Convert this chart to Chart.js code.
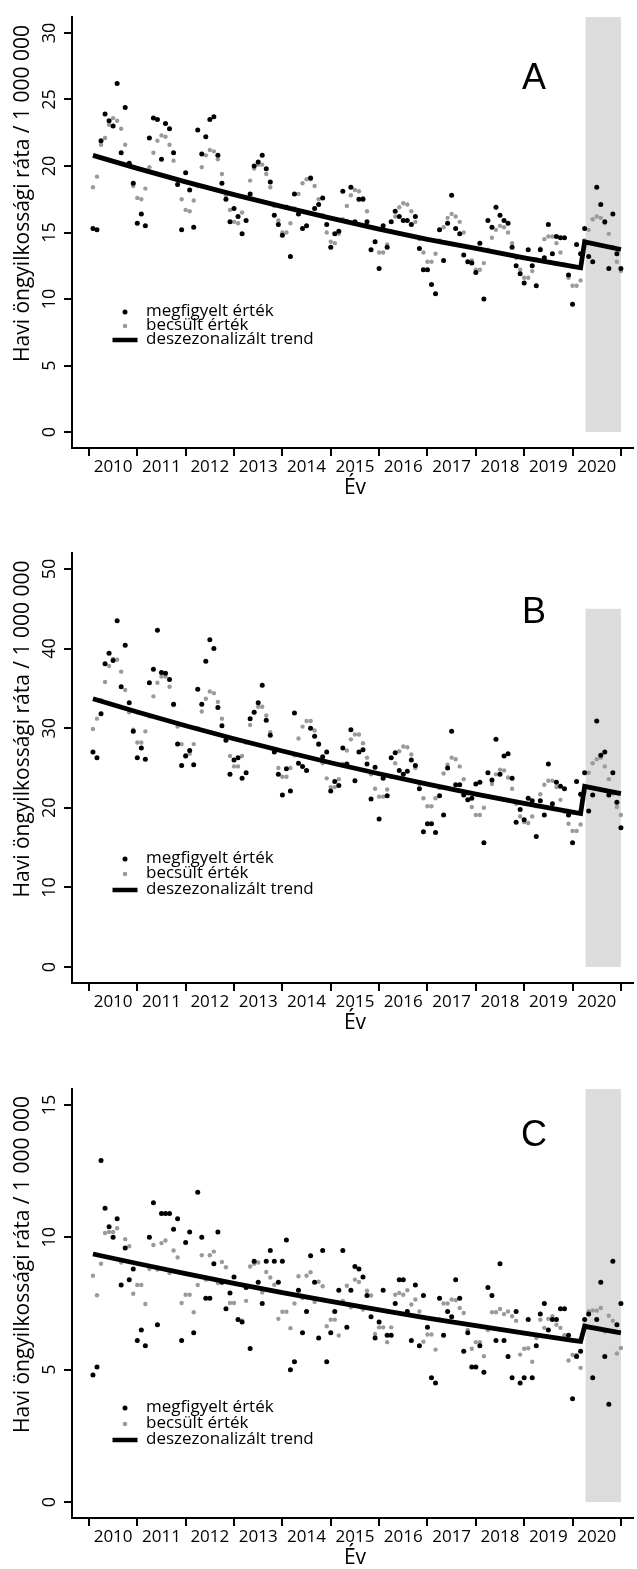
<!DOCTYPE html>
<html lang="hu">
<head>
<meta charset="utf-8">
<title>Havi öngyilkossági ráta</title>
<script src="https://cdn.jsdelivr.net/npm/chart.js@4.4.1/dist/chart.umd.min.js"></script>
<style>
  html, body { margin: 0; padding: 0; background: #fff; }
  .panel { position: absolute; left: 0; width: 637px; height: 523px; }
</style>
</head>
<body>
<div class="panel" style="top:0"><canvas id="chartA"></canvas></div>
<div class="panel" style="top:523px"><canvas id="chartB"></canvas></div>
<div class="panel" style="top:1046px"><canvas id="chartC"></canvas></div>
<script>
// Categories
const years = [2010, 2011, 2012, 2013, 2014, 2015, 2016, 2017, 2018, 2019, 2020];
const monthNumbers = [1, 2, 3, 4, 5, 6, 7, 8, 9, 10, 11, 12];
const yTitle = 'Havi öngyilkossági ráta / 1 000 000';
const xTitle = 'Év';
const legendLabels = ['megfigyelt érték', 'becsült érték', 'deszezonalizált trend'];

// Tick labels
const yTicksA = [0, 5, 10, 15, 20, 25, 30];
const yTicksB = [0, 10, 20, 30, 40, 50];
const yTicksC = [0, 5, 10, 15];

// Panel A - monthly values 2010-2020
const obsA = [
  15.3, 15.2, 21.9, 23.9, 23.4, 23.0, 26.2, 21.0, 24.4, 20.2, 18.7, 15.7,
  16.4, 15.5, 22.1, 23.6, 23.5, 20.5, 23.2, 22.8, 21.0, 18.6, 15.2, 19.5,
  18.2, 15.4, 22.7, 20.9, 22.2, 23.5, 23.7, 20.8, 18.7, 17.5, 15.8, 16.8,
  16.2, 14.9, 15.9, 17.9, 20.0, 20.3, 20.8, 19.8, 18.8, 16.3, 15.6, 14.8,
  16.9, 13.2, 17.9, 16.4, 15.3, 15.5, 19.1, 16.8, 17.1, 17.6, 15.6, 13.9,
  14.9, 15.1, 18.1, 15.8, 18.4, 15.8, 17.5, 17.5, 15.8, 13.7, 14.3, 12.3,
  15.5, 13.9, 15.8, 16.6, 16.2, 15.9, 15.9, 15.6, 16.2, 13.8, 12.2, 12.2,
  11.1, 10.4, 15.2, 12.9, 15.7, 17.8, 15.3, 14.9, 13.3, 12.8, 12.7, 12.0,
  14.2, 10.0, 15.9, 15.4, 16.9, 16.3, 15.9, 15.7, 13.9, 12.5, 11.9, 11.2,
  13.7, 12.5, 11.0, 13.7, 13.1, 15.6, 13.4, 14.7, 14.6, 14.6, 11.8, 9.6,
  14.1, 13.4, 15.3, 13.2, 12.8, 18.4, 17.1, 15.8, 12.3, 16.4, 13.4, 12.3
];
const estA = [
  18.4, 19.2, 21.6, 22.1, 23.1, 23.6, 23.4, 22.8, 21.6, 20.0, 18.5, 17.6,
  17.5, 18.3, 19.9, 21.0, 21.9, 22.3, 22.2, 21.6, 20.4, 18.9, 17.5, 16.7,
  16.6, 17.4, 18.5, 19.9, 20.8, 21.2, 21.1, 20.5, 19.4, 17.8, 16.7, 15.8,
  15.7, 16.5, 17.6, 18.9, 19.8, 20.1, 20.1, 19.4, 18.4, 17.0, 15.9, 15.0,
  15.0, 15.7, 16.8, 17.9, 18.7, 19.0, 19.0, 18.5, 17.5, 16.3, 15.0, 14.3,
  14.2, 14.9, 16.0, 17.0, 17.8, 18.2, 18.1, 17.6, 16.6, 15.4, 14.3, 13.5,
  13.5, 14.1, 15.1, 16.2, 16.9, 17.2, 17.1, 16.6, 15.8, 14.5, 13.5, 12.8,
  12.8, 13.4, 14.4, 15.4, 16.1, 16.4, 16.2, 15.8, 15.0, 13.9, 12.9, 12.2,
  12.2, 12.7, 13.7, 14.6, 15.2, 15.5, 15.4, 15.0, 14.2, 13.1, 12.2, 11.6,
  11.6, 12.1, 13.0, 13.8, 14.5, 14.7, 14.7, 14.2, 13.5, 12.6, 11.6, 11.0,
  11.0, 11.4, 14.4, 15.2, 16.0, 16.2, 16.1, 15.7, 14.9, 13.9, 12.8, 12.1
];

// Panel B
const obsB = [
  27.0, 26.3, 31.8, 38.1, 39.4, 38.5, 43.5, 35.2, 40.4, 33.2, 29.6, 26.3,
  27.5, 26.1, 35.7, 37.4, 42.3, 37.0, 36.9, 36.1, 33.0, 28.0, 25.3, 26.5,
  27.2, 25.4, 34.9, 33.0, 38.4, 41.1, 40.0, 32.6, 30.3, 28.5, 24.2, 26.0,
  26.3, 23.7, 24.4, 31.2, 32.0, 33.2, 35.4, 31.0, 29.1, 27.0, 24.2, 21.6,
  24.9, 22.1, 31.9, 25.6, 25.2, 24.7, 30.0, 29.0, 28.0, 26.4, 27.0, 22.1,
  23.3, 22.8, 27.5, 25.5, 29.8, 23.4, 27.0, 27.3, 25.5, 21.1, 25.1, 18.6,
  23.7, 21.5, 26.3, 26.9, 24.7, 24.2, 24.6, 26.0, 25.3, 22.4, 17.0, 18.0,
  18.0, 16.9, 21.5, 19.1, 25.0, 29.6, 22.9, 22.9, 21.6, 21.0, 21.2, 23.0,
  23.2, 15.6, 24.4, 23.5, 28.6, 24.2, 26.5, 26.8, 23.7, 18.2, 19.8, 18.5,
  21.2, 20.9, 16.4, 20.9, 19.1, 25.5, 20.5, 23.2, 22.7, 22.4, 19.1, 15.6,
  23.3, 21.7, 24.4, 19.6, 21.6, 30.9, 26.6, 27.0, 21.6, 24.4, 20.7, 17.5
];
const estB = [
  29.9, 31.2, 33.5, 35.8, 37.8, 38.7, 38.6, 37.1, 34.8, 32.0, 29.8, 28.2,
  28.2, 29.6, 31.5, 34.0, 35.7, 36.5, 36.5, 35.2, 32.9, 30.2, 28.0, 26.6,
  26.8, 28.0, 30.0, 32.1, 33.7, 34.6, 34.4, 33.3, 31.2, 28.6, 26.5, 25.2,
  25.2, 26.5, 28.2, 30.4, 32.0, 32.7, 32.7, 31.6, 29.5, 27.0, 25.0, 23.9,
  23.9, 25.0, 26.6, 28.7, 30.2, 30.9, 30.9, 29.7, 27.9, 25.6, 23.7, 22.6,
  22.6, 23.6, 25.5, 27.2, 28.6, 29.2, 29.2, 28.1, 26.3, 24.2, 22.4, 21.4,
  21.4, 22.3, 23.9, 25.6, 27.1, 27.7, 27.6, 26.7, 25.0, 23.0, 21.2, 20.2,
  20.2, 21.2, 22.5, 24.3, 25.4, 26.3, 26.1, 25.2, 23.6, 21.8, 20.1, 19.1,
  19.1, 20.0, 21.5, 23.0, 24.2, 24.8, 24.7, 23.8, 22.4, 20.5, 18.9, 18.2,
  18.1, 18.9, 20.2, 21.7, 22.9, 23.4, 23.4, 22.6, 21.0, 19.5, 18.0, 17.1,
  17.1, 17.9, 22.0, 24.4, 25.6, 26.1, 26.3, 25.2, 23.6, 21.8, 20.1, 19.1
];

// Panel C
const obsC = [
  4.8, 5.1, 12.9, 11.1, 10.4, 10.0, 10.7, 8.2, 9.6, 8.4, 8.8, 6.1,
  6.5, 5.9, 10.0, 11.3, 6.7, 10.9, 10.9, 10.9, 10.3, 10.7, 6.1, 9.8,
  10.2, 6.4, 11.7, 10.0, 7.7, 7.7, 9.0, 10.2, 8.3, 7.3, 7.9, 8.5,
  6.9, 6.8, 8.1, 5.8, 9.1, 8.3, 7.5, 9.1, 9.5, 9.1, 8.3, 9.1,
  9.9, 5.0, 5.3, 8.0, 6.4, 7.2, 9.3, 8.3, 6.2, 9.5, 5.3, 6.4,
  7.2, 8.0, 9.5, 6.6, 8.0, 8.9, 8.8, 8.5, 7.8, 7.0, 6.2, 6.8,
  8.0, 6.3, 6.3, 7.5, 8.4, 8.4, 7.2, 6.1, 8.2, 5.9, 7.8, 6.6,
  4.7, 4.5, 7.7, 6.3, 7.2, 7.0, 8.4, 7.7, 5.7, 6.4, 5.1, 5.1,
  5.9, 4.9, 8.1, 7.8, 6.1, 9.0, 6.1, 5.5, 4.7, 7.2, 4.5, 4.7,
  6.9, 4.7, 5.9, 7.1, 7.5, 6.5, 6.9, 6.9, 7.3, 7.3, 6.3, 3.9,
  5.5, 5.7, 6.9, 7.1, 4.7, 6.9, 8.3, 5.5, 3.7, 9.1, 6.7, 7.5
];
const estC = [
  8.55, 7.81, 9.0, 10.16, 10.2, 10.2, 10.34, 9.05, 9.93, 9.66, 7.87, 8.2,
  8.2, 7.48, 8.8, 9.71, 8.78, 9.78, 9.88, 8.65, 9.5, 9.24, 7.52, 7.83,
  7.83, 7.17, 8.2, 9.32, 8.4, 9.32, 9.46, 8.27, 9.07, 8.87, 7.52, 7.52,
  6.89, 6.85, 7.6, 8.9, 9.0, 9.05, 7.92, 8.69, 8.48, 8.21, 6.92, 7.19,
  7.19, 6.57, 7.5, 8.53, 7.71, 8.55, 8.68, 7.56, 8.32, 8.15, 6.64, 6.89,
  6.89, 6.29, 7.6, 8.17, 7.36, 8.4, 8.31, 7.27, 7.98, 7.8, 6.35, 6.6,
  6.6, 6.04, 6.6, 7.83, 7.9, 7.83, 8.0, 7.46, 7.65, 7.2, 6.06, 6.33,
  6.33, 5.76, 6.9, 7.5, 7.5, 7.65, 7.62, 7.33, 7.14, 6.5, 5.79, 6.04,
  6.04, 5.51, 6.5, 7.17, 7.17, 7.29, 7.1, 7.2, 7.02, 6.85, 5.57, 5.79,
  5.81, 5.3, 6.2, 6.89, 6.58, 6.92, 7.02, 6.7, 6.58, 6.3, 5.35, 5.56,
  5.56, 5.07, 6.7, 7.21, 7.24, 7.23, 7.33, 6.44, 7.04, 6.85, 5.61, 5.82
];

// Deseasonalised trend, read at year starts plus the break in 2020
const trendTimes = [2010 + 1/12, 2011, 2012, 2013, 2014, 2015, 2016, 2017, 2018, 2019, 2020, 2020 + 2/12, 2020 + 3/12, 2021];
const trendA = [20.8, 19.82, 18.81, 17.85, 16.94, 16.08, 15.25, 14.48, 13.8, 13.1, 12.45, 12.35, 14.3, 13.72];
const trendB = [33.7, 32.03, 30.3, 28.67, 27.13, 25.66, 24.28, 22.97, 21.73, 20.56, 19.46, 19.28, 22.69, 21.77];
const trendC = [9.37, 9.01, 8.63, 8.26, 7.91, 7.58, 7.26, 6.95, 6.66, 6.38, 6.11, 6.07, 6.64, 6.39];

// Shaded period (COVID)
const shadeStart = 2020.27;
const shadeEnd = 2021;

const monthTimes = years.flatMap(y => monthNumbers.map(m => y + m / 12));
const xTickValues = years.flatMap(y => [y, y + 0.5]).concat([2021]);

const FONT = '"Open Sans", "DejaVu Sans", sans-serif';
const GREY_DOT = '#9a9a9a';

const panels = [
  { id: 'chartA', letter: 'A', obs: obsA, est: estA, trend: trendA, yTicks: yTicksA,
    yMin: -1.2, yMax: 31.2, shadeTop: 31.2, padTop: 17, xAxisH: 75,
    letterBase: 89, legendRows: [312, 326, 340] },
  { id: 'chartB', letter: 'B', obs: obsB, est: estB, trend: trendB, yTicks: yTicksB,
    yMin: -2, yMax: 52, shadeTop: 45, padTop: 30, xAxisH: 63,
    letterBase: 100, legendRows: [336, 351, 367] },
  { id: 'chartC', letter: 'C', obs: obsC, est: estC, trend: trendC, yTicks: yTicksC,
    yMin: -0.6, yMax: 15.6, shadeTop: 15.6, padTop: 43, xAxisH: 51,
    letterBase: 100, legendRows: [362, 378, 394] }
];

// Shading, rotated y labels, titles, panel letter and legend
function makeDecor(p) {
  return {
    id: 'decor' + p.letter,
    beforeDatasetsDraw(chart) {
      const { ctx, scales: { x, y } } = chart;
      const x0 = x.getPixelForValue(shadeStart);
      const x1 = x.getPixelForValue(shadeEnd);
      const y0 = y.getPixelForValue(p.shadeTop);
      const y1 = y.getPixelForValue(0);
      ctx.save();
      ctx.fillStyle = '#dcdcdc';
      ctx.fillRect(x0, y0, x1 - x0, y1 - y0);
      ctx.restore();
    },
    afterDraw(chart) {
      const { ctx, chartArea, scales: { y } } = chart;
      ctx.save();
      ctx.fillStyle = '#000';
      ctx.textAlign = 'center';
      ctx.textBaseline = 'middle';

      ctx.font = '18px ' + FONT;
      p.yTicks.forEach(v => {
        ctx.save();
        ctx.translate(50, y.getPixelForValue(v));
        ctx.rotate(-Math.PI / 2);
        ctx.fillText(String(v), 0, 0);
        ctx.restore();
      });

      ctx.font = '21px ' + FONT;
      ctx.save();
      ctx.translate(23, (chartArea.top + chartArea.bottom) / 2 - 39);
      ctx.rotate(-Math.PI / 2);
      ctx.fillText(yTitle, 0, 0);
      ctx.restore();
      ctx.fillText(xTitle, 355, chartArea.bottom + 40);

      ctx.textBaseline = 'alphabetic';
      ctx.font = '36px "Liberation Sans", Arial, sans-serif';
      ctx.fillText(p.letter, 534, p.letterBase);

      // legend
      const r = p.legendRows;
      ctx.beginPath();
      ctx.arc(125, r[0], 2.5, 0, Math.PI * 2);
      ctx.fillStyle = '#000';
      ctx.fill();
      ctx.beginPath();
      ctx.arc(125, r[1], 2.3, 0, Math.PI * 2);
      ctx.fillStyle = GREY_DOT;
      ctx.fill();
      ctx.beginPath();
      ctx.moveTo(112.5, r[2]);
      ctx.lineTo(137.5, r[2]);
      ctx.lineWidth = 4.5;
      ctx.strokeStyle = '#000';
      ctx.stroke();

      ctx.fillStyle = '#000';
      ctx.textAlign = 'left';
      ctx.font = '17px ' + FONT;
      legendLabels.forEach((t, i) => ctx.fillText(t, 146, r[i] + 4));
      ctx.restore();
    }
  };
}

function createPanel(p) {
  const ctx = document.getElementById(p.id).getContext('2d');
  return new Chart(ctx, {
    type: 'scatter',
    data: {
      datasets: [
        {
          label: legendLabels[2],
          data: trendTimes.map((t, i) => ({ x: t, y: p.trend[i] })),
          showLine: true,
          borderColor: '#000',
          borderWidth: 4.8,
          pointRadius: 0,
          tension: 0
        },
        {
          label: legendLabels[0],
          data: monthTimes.map((t, i) => ({ x: t, y: p.obs[i] })),
          pointRadius: 2.5,
          pointBackgroundColor: '#000',
          pointBorderWidth: 0
        },
        {
          label: legendLabels[1],
          data: monthTimes.map((t, i) => ({ x: t, y: p.est[i] })),
          pointRadius: 2.2,
          pointBackgroundColor: GREY_DOT,
          pointBorderWidth: 0
        }
      ]
    },
    options: {
      responsive: true,
      maintainAspectRatio: false,
      animation: false,
      events: [],
      layout: { padding: { top: p.padTop, left: 0, right: 0, bottom: 0 } },
      plugins: {
        legend: { display: false },
        tooltip: { enabled: false }
      },
      scales: {
        x: {
          type: 'linear',
          min: 2009.65,
          max: 2021.25,
          afterBuildTicks: s => { s.ticks = xTickValues.map(v => ({ value: v })); },
          afterFit: s => { s.height = p.xAxisH; },
          grid: {
            drawOnChartArea: false,
            tickLength: 8,
            lineWidth: 2,
            color: c => (c.tick && Number.isInteger(c.tick.value)) ? '#000' : 'rgba(0,0,0,0)'
          },
          border: { color: '#000', width: 2 },
          ticks: {
            autoSkip: false,
            maxRotation: 0,
            padding: 1,
            color: '#000',
            font: { family: FONT, size: 17 },
            callback: v => Number.isInteger(v) ? '' : String(Math.floor(v))
          }
        },
        y: {
          min: p.yMin,
          max: p.yMax,
          afterBuildTicks: s => { s.ticks = p.yTicks.map(v => ({ value: v })); },
          afterFit: s => { s.width = 72; },
          grid: { drawOnChartArea: false, tickLength: 8, lineWidth: 2, color: '#000' },
          border: { color: '#000', width: 2 },
          ticks: { display: false }
        }
      }
    },
    plugins: [makeDecor(p)]
  });
}

panels.forEach(createPanel);
</script>
</body>
</html>
